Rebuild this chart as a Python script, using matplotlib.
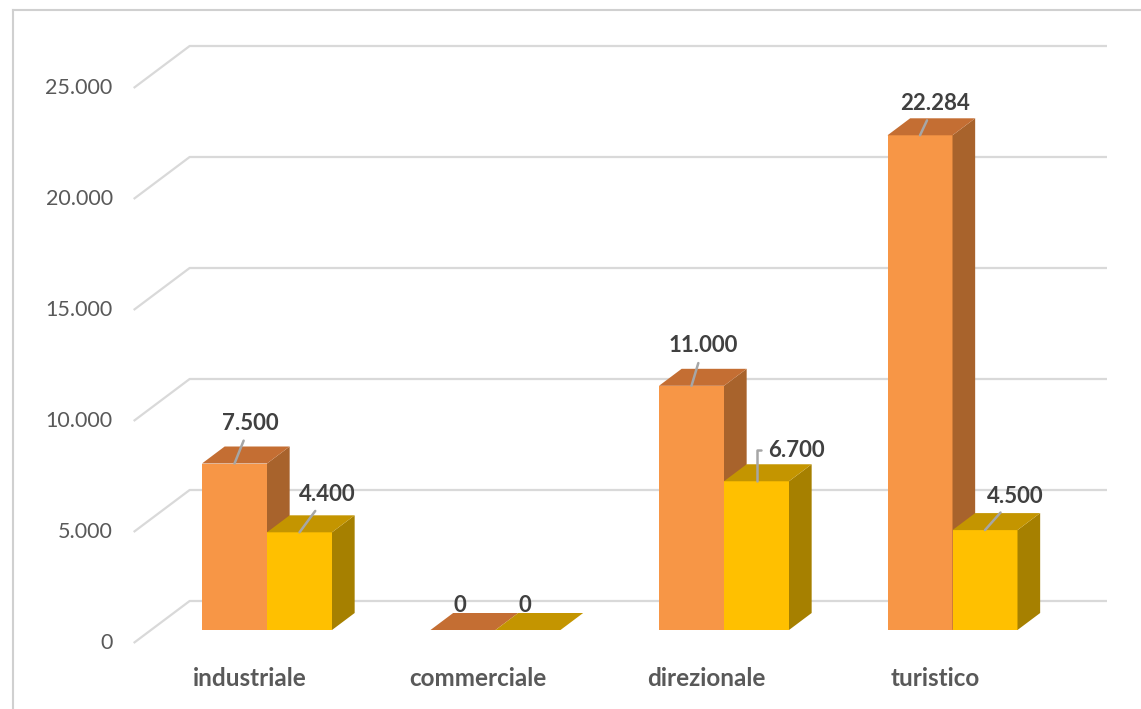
import matplotlib
matplotlib.use('Agg')
import matplotlib.pyplot as plt
from matplotlib.patches import Polygon
from matplotlib.lines import Line2D

categories = ['industriale', 'commerciale', 'direzionale', 'turistico']
serie_a = [7500, 0, 11000, 22284]
serie_b = [4400, 0, 6700, 4500]
ticks = [0, 5000, 10000, 15000, 20000, 25000]
tick_labels = ['0', '5.000', '10.000', '15.000', '20.000', '25.000']

# colori: fronte, top, lato
col_a = ('#F79646', '#C46E33', '#A8632C')
col_b = ('#FFC000', '#C49500', '#A68000')

W, H = 1141, 709
# scala in pixel
px_cat = 228.5      # distanza tra categorie
x0_px = 267         # centro della coppia di barre della prima categoria
base_px = 630       # base frontale delle barre
px_val = 555 / 25000
bar_px = 65

def dx(k):
    return 1.333 * k / px_cat

def dy(k):
    return k / px_val

fig = plt.figure(figsize=(W / 100, H / 100), dpi=100)
ax = fig.add_axes([0, 0, 1, 1])
ax.set_xlim(-x0_px / px_cat, (W - x0_px) / px_cat)
ax.set_ylim((base_px - H) / px_val, base_px / px_val)
ax.axis('off')

font = 'Lato'

# griglia: parete laterale + parete di fondo
wall_x = (151 - x0_px) / px_cat
right_x = (1107 - x0_px) / px_cat
k_back, k_front = 29, -13
for t, lab in zip(ticks, tick_labels):
    ax.plot([wall_x + dx(k_front), wall_x + dx(k_back), right_x],
            [t + dy(k_front), t + dy(k_back), t + dy(k_back)],
            color='#D9D9D9', lw=1.6, zorder=1, solid_capstyle='butt')
    ax.text(wall_x + dx(k_front) - 21 / px_cat, t + dy(k_front), lab,
            ha='right', va='center', fontsize=15.5, color='#595959',
            family=font)

w = bar_px / px_cat
kd = 17  # profondità barra

def bar3d(x0, v, cols):
    x1 = x0 + w
    ddx, ddy = dx(kd), dy(kd)
    front, top, side = cols
    if v > 0:
        ax.add_patch(Polygon([(x0, 0), (x1, 0), (x1, v), (x0, v)],
                             closed=True, fc=front, ec='none', zorder=3))
        ax.add_patch(Polygon([(x1, 0), (x1 + ddx, ddy), (x1 + ddx, v + ddy), (x1, v)],
                             closed=True, fc=side, ec='none', zorder=3))
    ax.add_patch(Polygon([(x0, v), (x1, v), (x1 + ddx, v + ddy), (x0 + ddx, v + ddy)],
                         closed=True, fc=top, ec='none', zorder=3))

# offset etichette (pixel) rispetto al centro del bordo superiore frontale
off_a = [(16, 40), (-3, 25), (12, 40), (15, 32)]
off_b = [(28, 38), (-3, 25), (40, 31), (30, 34)]

for i, cat in enumerate(categories):
    c = i
    bar3d(c - w, serie_a[i], col_a)
    bar3d(c, serie_b[i], col_b)
    for xc, v, off, conn in [(c - w / 2, serie_a[i], off_a[i], 'arc3'),
                             (c + w / 2, serie_b[i], off_b[i],
                              'angle,angleA=0,angleB=90,rad=0' if i == 2 else 'arc3')]:
        txt = f'{v:,}'.replace(',', '.')
        arrow = None
        if v > 0:
            arrow = dict(arrowstyle='-', color='#A6A6A6', lw=1.8,
                         shrinkA=3, shrinkB=0, connectionstyle=conn)
        ax.annotate(txt, xy=(xc, v), xytext=off, textcoords='offset pixels',
                    ha='center', va='center', fontsize=16, fontweight='bold',
                    color='#404040', family=font, arrowprops=arrow, zorder=4)
    ax.text(c + dx(k_front), (base_px - 678) / px_val, cat, ha='center',
            va='center', fontsize=17.5, fontweight='bold', color='#595959',
            family=font)

# bordo del grafico
fig.add_artist(Line2D([13 / W, 13 / W], [0, 1 - 10 / H], color='#D0D0D0', lw=1.5))
fig.add_artist(Line2D([13 / W, 1], [1 - 10 / H, 1 - 10 / H], color='#D0D0D0', lw=1.5))

fig.savefig('out.png', dpi=100, facecolor='white')
